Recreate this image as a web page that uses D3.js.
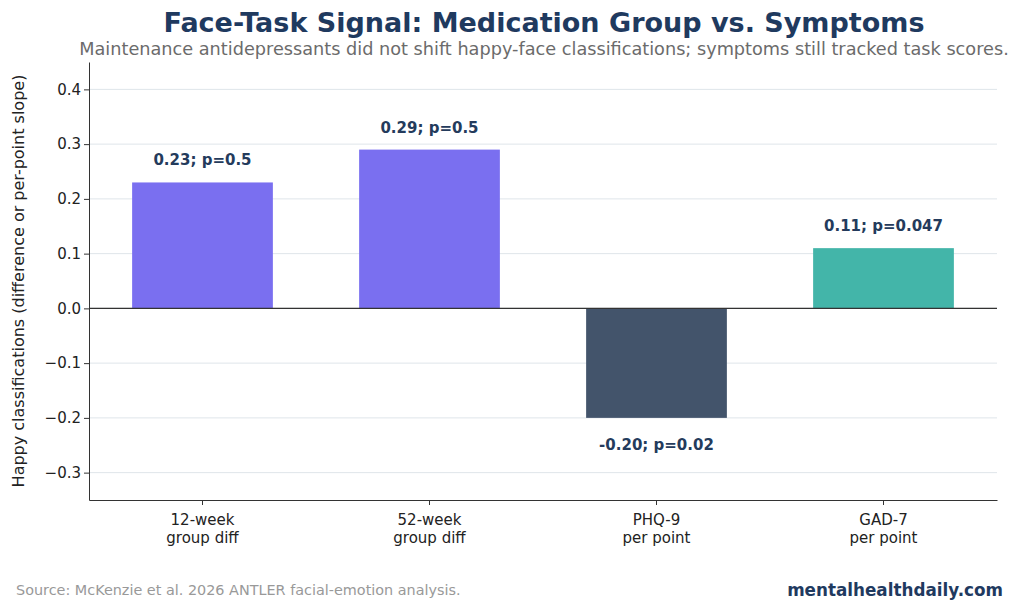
<!DOCTYPE html>
<html><head><meta charset="utf-8">
<script src="https://cdn.jsdelivr.net/npm/d3@7"></script>
<style>body{margin:0;background:#fff}svg text{font-family:"DejaVu Sans",sans-serif}</style>
</head><body><svg width="1024" height="610"></svg>
<script>
var categories = ["12-week\ngroup diff", "52-week\ngroup diff", "PHQ-9\nper point", "GAD-7\nper point"];
var values = [0.23, 0.29, -0.20, 0.11];
var labels = ["0.23; p=0.5", "0.29; p=0.5", "-0.20; p=0.02", "0.11; p=0.047"];
var colors = ["#7a6ff0", "#7a6ff0", "#43546b", "#43b5a9"];
var yTicks = [-0.3, -0.2, -0.1, 0, 0.1, 0.2, 0.3, 0.4];

var mLeft = 89, mRight = 997, mTop = 62, mBottom = 500;
var svg = d3.select("svg");

var x = d3.scaleBand().domain(categories).range([mLeft, mRight]).paddingInner(0.38).paddingOuter(0.19);
var y = d3.scaleLinear().domain([-0.35, 0.45]).range([mBottom, mTop]);

// grid
svg.append("g").selectAll("line").data(yTicks).enter().append("line")
  .attr("x1", mLeft).attr("x2", mRight)
  .attr("y1", d => y(d)).attr("y2", d => y(d))
  .attr("stroke", "#dfe5ea").attr("stroke-width", 1);

svg.selectAll("rect.bar").data(values).enter().append("rect")
  .attr("x", (d, i) => x(categories[i]))
  .attr("width", x.bandwidth())
  .attr("y", d => y(Math.max(0, d)))
  .attr("height", d => Math.abs(y(d) - y(0)))
  .attr("fill", (d, i) => colors[i]);

svg.append("line").attr("x1", mLeft).attr("x2", mRight).attr("y1", y(0)).attr("y2", y(0))
  .attr("stroke", "#333").attr("stroke-width", 1.2);

svg.selectAll("text.val").data(values).enter().append("text")
  .attr("x", (d, i) => x(categories[i]) + x.bandwidth() / 2)
  .attr("y", d => d >= 0 ? y(d) - 17 : y(d) + 32)
  .attr("text-anchor", "middle").attr("font-size", 15).attr("font-weight", "bold")
  .attr("fill", "#243b5c")
  .text((d, i) => labels[i]);

var yAxis = svg.append("g").attr("transform", "translate(" + mLeft + ",0)")
  .call(d3.axisLeft(y).tickValues(yTicks).tickFormat(d3.format(".1f")).tickSize(5).tickSizeOuter(0));
yAxis.selectAll("text").attr("font-size", 15).attr("fill", "#222");

var xAxis = svg.append("g").attr("transform", "translate(0," + mBottom + ")")
  .call(d3.axisBottom(x).tickSize(5).tickSizeOuter(0).tickFormat(""));
xAxis.selectAll(".tick").append("text").attr("fill", "#222").attr("font-size", 15)
  .attr("text-anchor", "middle")
  .selectAll("tspan").data(d => d.split("\n")).enter().append("tspan")
  .attr("x", 0).attr("y", (d, i) => 25 + i * 18).text(d => d);
svg.selectAll(".domain").attr("stroke", "#333");
svg.selectAll(".tick line").attr("stroke", "#333");

svg.append("text").attr("transform", "translate(24," + ((mTop + mBottom) / 2) + ") rotate(-90)")
  .attr("text-anchor", "middle").attr("font-size", 16).attr("fill", "#222")
  .text("Happy classifications (difference or per-point slope)");

svg.append("text").attr("x", 544).attr("y", 32).attr("text-anchor", "middle")
  .attr("font-size", 27).attr("font-weight", "bold").attr("fill", "#1f3a5f")
  .text("Face-Task Signal: Medication Group vs. Symptoms");
svg.append("text").attr("x", 544).attr("y", 55).attr("text-anchor", "middle")
  .attr("font-size", 17.7).attr("fill", "#6b6b6b")
  .text("Maintenance antidepressants did not shift happy-face classifications; symptoms still tracked task scores.");

svg.append("text").attr("x", 16).attr("y", 595).attr("font-size", 14.4).attr("fill", "#999")
  .text("Source: McKenzie et al. 2026 ANTLER facial-emotion analysis.");
svg.append("text").attr("x", 1003).attr("y", 596).attr("text-anchor", "end")
  .attr("font-size", 16.8).attr("font-weight", "bold").attr("fill", "#1f3a5f")
  .text("mentalhealthdaily.com");
</script></body></html>
